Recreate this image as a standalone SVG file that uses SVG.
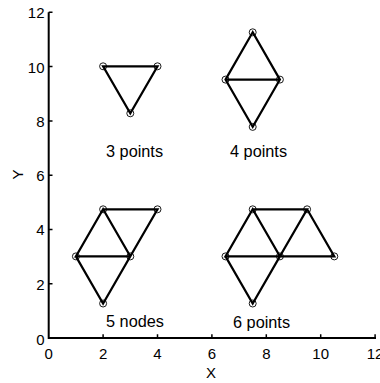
<svg xmlns="http://www.w3.org/2000/svg" width="380" height="383" viewBox="0 0 380 383">
<style>
.ax{stroke:#000;stroke-width:2;fill:none}
.tk{stroke:#000;stroke-width:1.5}
.e{stroke:#000;stroke-width:2.2;stroke-linecap:round}
.n{fill:none;stroke:#000;stroke-width:0.9}
text{font-family:"Liberation Sans",Arial,sans-serif;fill:#000}
.tl{font-size:15px}
.lb{font-size:16.3px}
</style>
<rect width="380" height="383" fill="#fff"/>
<g id="axes">
<path class="ax" d="M48.7 12.3V338H376"/>
<g class="tk">
<path d="M48.7 12.3H52.5M48.7 66.6H52.5M48.7 120.9H52.5M48.7 175.2H52.5M48.7 229.4H52.5M48.7 283.7H52.5"/>
<path d="M103.1 338V334.2M157.5 338V334.2M211.9 338V334.2M266.3 338V334.2M320.7 338V334.2M375.1 338V334.2"/>
</g>
<g class="tl" text-anchor="end">
<text x="44.5" y="18.3">12</text>
<text x="44.5" y="72.6">10</text>
<text x="44.5" y="126.9">8</text>
<text x="44.5" y="181.2">6</text>
<text x="44.5" y="235.4">4</text>
<text x="44.5" y="289.7">2</text>
<text x="44.5" y="344.5">0</text>
</g>
<g class="tl" text-anchor="middle">
<text x="48.7" y="358.5">0</text>
<text x="103.1" y="358.5">2</text>
<text x="157.5" y="358.5">4</text>
<text x="211.9" y="358.5">6</text>
<text x="266.3" y="358.5">8</text>
<text x="320.7" y="358.5">10</text>
<text x="375.1" y="358.5">12</text>
</g>
<text class="tl" x="211" y="378" text-anchor="middle">X</text>
<text class="tl" transform="translate(22.5,174.5) rotate(-90)" text-anchor="middle">Y</text>
</g>
<g id="connectors">
<path class="e" d="M103.1 66.3H157.5L130.3 113.3Z" fill="none"/>
<path class="e" d="M252.7 32.3L225.5 79.6L252.7 126.9L279.9 79.6ZM225.5 79.6H279.9" fill="none"/>
<path class="e" d="M103.1 209.3H157.5L130.3 256.4L103.1 209.3L75.9 256.4H130.3L103.1 303.5L75.9 256.4" fill="none"/>
<path class="e" d="M252.7 209.3H307.1L279.9 256.4L252.7 209.3L225.5 256.4H334.3L307.1 209.3M225.5 256.4L252.7 303.5L279.9 256.4" fill="none"/>
</g>
<g id="g3">
<circle class="n" cx="103.1" cy="66.3" r="3.5"/>
<circle class="n" cx="157.5" cy="66.3" r="3.5"/>
<circle class="n" cx="130.3" cy="113.3" r="3.5"/>
<text class="lb" x="106" y="156.5">3 points</text>
</g>
<g id="g4">
<circle class="n" cx="252.7" cy="32.3" r="3.5"/>
<circle class="n" cx="225.5" cy="79.6" r="3.5"/>
<circle class="n" cx="279.9" cy="79.6" r="3.5"/>
<circle class="n" cx="252.7" cy="126.9" r="3.5"/>
<text class="lb" x="230" y="156.5">4 points</text>
</g>
<g id="g5">
<circle class="n" cx="103.1" cy="209.3" r="3.5"/>
<circle class="n" cx="157.5" cy="209.3" r="3.5"/>
<circle class="n" cx="75.9" cy="256.4" r="3.5"/>
<circle class="n" cx="130.3" cy="256.4" r="3.5"/>
<circle class="n" cx="103.1" cy="303.5" r="3.5"/>
<text class="lb" x="106" y="327">5 nodes</text>
</g>
<g id="g6">
<circle class="n" cx="252.7" cy="209.3" r="3.5"/>
<circle class="n" cx="307.1" cy="209.3" r="3.5"/>
<circle class="n" cx="225.5" cy="256.4" r="3.5"/>
<circle class="n" cx="279.9" cy="256.4" r="3.5"/>
<circle class="n" cx="334.3" cy="256.4" r="3.5"/>
<circle class="n" cx="252.7" cy="303.5" r="3.5"/>
<text class="lb" x="233" y="328">6 points</text>
</g>
</svg>
